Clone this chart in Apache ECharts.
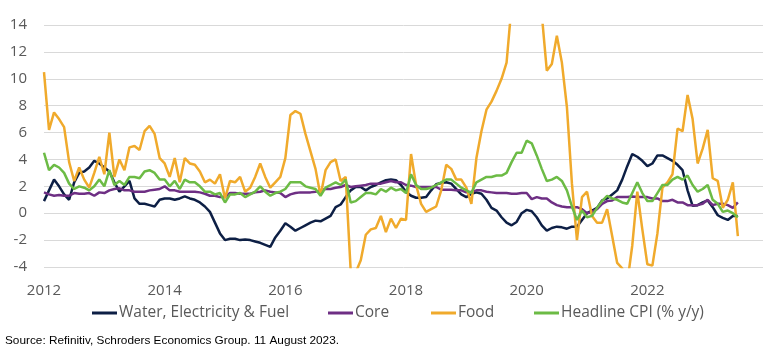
<!DOCTYPE html>
<html>
<head>
<meta charset="utf-8">
<script src="https://cdn.jsdelivr.net/npm/echarts@6/dist/echarts.min.js"></script>
<style>
html,body{margin:0;padding:0;background:#fff;}
#chart{width:770px;height:356px;}
</style>
</head>
<body>
<div id="chart"></div>
<script>
// Monthly categories Jan 2012 .. Dec 2023 (data runs to Jul 2023)
var years = [2012,2013,2014,2015,2016,2017,2018,2019,2020,2021,2022,2023];
var months = ['01','02','03','04','05','06','07','08','09','10','11','12'];
var categories = [];
years.forEach(function(y){ months.forEach(function(m){ categories.push(y + '-' + m); }); });

var seriesNames = ['Water, Electricity & Fuel', 'Core', 'Food', 'Headline CPI (% y/y)'];

var waterElecFuel = [
  0.9, 1.7, 2.5, 2.0, 1.4, 1.0, 2.3, 3.0, 3.1, 3.4, 3.9, 3.7,
  3.4, 3.1, 2.3, 1.6, 2.0, 2.4, 1.1, 0.7, 0.7, 0.6, 0.5, 1.0,
  1.1, 1.1, 1.0, 1.1, 1.25, 1.1, 1.0, 0.8, 0.5, 0.1, -0.7, -1.5,
  -2.0, -1.9, -1.9, -2.0, -1.95, -2.0, -2.1, -2.2, -2.35, -2.5, -1.8, -1.3,
  -0.75, -1.0, -1.3, -1.1, -0.9, -0.7, -0.55, -0.6, -0.4, -0.2, 0.45, 0.65,
  1.2, 1.7, 1.95, 1.95, 1.7, 1.95, 2.1, 2.3, 2.45, 2.5, 2.45, 2.1,
  1.6, 1.3, 1.15, 1.15, 1.2, 1.7, 2.15, 2.25, 2.3, 2.2, 1.8, 1.4,
  1.2, 1.45, 1.55, 1.45, 1.0, 0.4, 0.2, -0.3, -0.7, -0.9, -0.65, 0.0,
  0.25, 0.15, -0.3, -0.9, -1.3, -1.1, -1.0, -1.05, -1.15, -1.0, -1.0, -0.5,
  0.0, 0.2, 0.4, 0.95, 1.1, 1.4, 1.7, 2.5, 3.5, 4.4, 4.2, 3.9,
  3.5, 3.7, 4.3, 4.3, 4.1, 3.9, 3.6, 3.2, 1.7, 0.55, 0.6, 0.8,
  0.95, 0.45, -0.15, -0.35, -0.5, -0.2, -0.2
];

var core = [
  1.55, 1.4, 1.3, 1.35, 1.3, 1.3, 1.5, 1.45, 1.45, 1.5, 1.3, 1.55,
  1.5, 1.7, 1.8, 1.85, 1.7, 1.7, 1.6, 1.6, 1.6, 1.7, 1.75, 1.8,
  2.0, 1.7, 1.7, 1.6, 1.6, 1.6, 1.6, 1.55, 1.45, 1.3, 1.3, 1.2,
  1.2, 1.5, 1.5, 1.45, 1.45, 1.45, 1.55, 1.6, 1.7, 1.6, 1.55, 1.5,
  1.2, 1.4, 1.5, 1.55, 1.55, 1.55, 1.6, 1.7, 1.8, 1.8, 1.9, 1.95,
  2.1, 1.95, 2.0, 2.05, 2.1, 2.2, 2.2, 2.2, 2.3, 2.4, 2.3, 2.3,
  2.1, 2.05, 1.95, 1.95, 1.95, 1.95, 1.95, 1.75, 1.75, 1.75, 1.7, 1.7,
  1.55, 1.6, 1.7, 1.7, 1.6, 1.55, 1.5, 1.5, 1.5, 1.45, 1.45, 1.5,
  1.5, 1.05, 1.2, 1.1, 1.1, 0.8, 0.6, 0.5, 0.45, 0.45, 0.45, 0.3,
  0.0, 0.1, 0.3, 0.7, 0.9, 0.95, 1.2, 1.2, 1.2, 1.25, 1.2, 1.2,
  1.2, 1.1, 1.1, 0.9, 0.9, 1.0, 0.8, 0.8, 0.6, 0.6, 0.6, 0.7,
  1.0, 0.6, 0.7, 0.7, 0.6, 0.4, 0.8
];

var food = [
  10.5, 6.2, 7.5, 7.0, 6.4, 3.8, 2.4, 3.4, 2.5, 1.9, 3.0, 4.2,
  2.9, 6.0, 2.7, 4.0, 3.2, 4.9, 5.0, 4.7, 6.1, 6.5, 5.9, 4.1,
  3.7, 2.7, 4.1, 2.3, 4.1, 3.7, 3.6, 3.1, 2.3, 2.5, 2.2, 2.9,
  1.1, 2.4, 2.3, 2.7, 1.6, 1.9, 2.7, 3.7, 2.7, 1.9, 2.3, 2.7,
  4.1, 7.3, 7.6, 7.4, 5.9, 4.6, 3.3, 1.3, 3.2, 3.8, 4.0, 2.4,
  2.7, -4.3, -4.4, -3.5, -1.6, -1.2, -1.1, -0.2, -1.4, -0.4, -1.1, -0.4,
  -0.5, 4.4, 2.1, 0.7, 0.1, 0.3, 0.5, 1.7, 3.6, 3.3, 2.5, 2.5,
  1.9, 0.7, 4.1, 6.1, 7.7, 8.3, 9.1, 10.0, 11.2, 15.5, 19.1, 17.4,
  20.6, 21.9, 18.3, 14.8, 10.6, 11.1, 13.2, 11.2, 7.9, 2.2, -2.0, 1.2,
  1.6, -0.2, -0.7, -0.7, 0.3, -1.7, -3.7, -4.1, -5.2, -2.4, 1.6, -1.2,
  -3.8, -3.9, -1.5, 1.9, 2.3, 2.9, 6.3, 6.1, 8.8, 7.0, 3.7, 4.8,
  6.2, 2.6, 2.4, 0.4, 1.0, 2.3, -1.7
];

var headline = [
  4.5, 3.2, 3.6, 3.4, 3.0, 2.2, 1.8, 2.0, 1.9, 1.7, 2.0, 2.5,
  2.0, 3.2, 2.1, 2.4, 2.1, 2.7, 2.7, 2.6, 3.1, 3.2, 3.0, 2.5,
  2.5, 2.0, 2.4, 1.8, 2.5, 2.3, 2.3, 2.0, 1.6, 1.6, 1.4, 1.5,
  0.8, 1.4, 1.4, 1.5, 1.2, 1.4, 1.6, 2.0, 1.6, 1.3, 1.5, 1.6,
  1.8, 2.3, 2.3, 2.3, 2.0, 1.9, 1.8, 1.3, 1.9, 2.1, 2.3, 2.1,
  2.5, 0.8, 0.9, 1.2, 1.5, 1.5, 1.4, 1.8, 1.6, 1.9, 1.7, 1.8,
  1.5, 2.9, 2.1, 1.8, 1.8, 1.9, 2.1, 2.3, 2.5, 2.5, 2.2, 1.9,
  1.7, 1.5, 2.3, 2.5, 2.7, 2.7, 2.8, 2.8, 3.0, 3.8, 4.5, 4.5,
  5.4, 5.2, 4.3, 3.3, 2.4, 2.5, 2.7, 2.4, 1.7, 0.5, -0.5, 0.2,
  -0.3, -0.2, 0.4, 0.9, 1.3, 1.1, 1.0, 0.8, 0.7, 1.5, 2.3, 1.5,
  0.9, 0.9, 1.5, 2.1, 2.1, 2.5, 2.7, 2.5, 2.8, 2.1, 1.6, 1.8,
  2.1, 1.0, 0.7, 0.1, 0.2, 0.0, -0.3
];

var yTicks = { min: -4, max: 14, interval: 2 };
var sourceText = 'Source: Refinitiv, Schroders Economics Group. 11 August 2023.';

var colors = ['#0d1f45', '#6e2f84', '#f0aa2c', '#6cbb45'];
var seriesData = [waterElecFuel, core, food, headline];
var legendLeft = [92, 328, 431, 534];

var chart = echarts.init(document.getElementById('chart'), null, { renderer: 'canvas' });

var legends = seriesNames.map(function(n, i){
  return {
    data: [n],
    left: legendLeft[i],
    top: 305,
    orient: 'horizontal',
    icon: 'rect',
    itemWidth: 25,
    itemHeight: 3,
    itemGap: 0,
    padding: 0,
    selectedMode: false,
    textStyle: { fontFamily: 'Open Sans', fontSize: 15.5, color: '#595959', padding: [0, 0, 0, -3] }
  };
});

chart.setOption({
  animation: false,
  color: colors,
  grid: { left: 44, right: 7, top: 25, bottom: 89, containLabel: false },
  legend: legends,
  xAxis: {
    type: 'category',
    data: categories,
    boundaryGap: false,
    axisLine: { show: false },
    axisTick: { show: false },
    splitLine: { show: false },
    axisLabel: {
      interval: function(idx){ return idx % 24 === 0; },
      formatter: function(v){ return v.slice(0, 4); },
      fontFamily: 'Open Sans',
      fontSize: 15,
      color: '#595959',
      margin: 16
    }
  },
  yAxis: {
    type: 'value',
    min: yTicks.min,
    max: yTicks.max,
    interval: yTicks.interval,
    axisLine: { show: false },
    axisTick: { show: false },
    splitLine: { lineStyle: { color: '#d9d9d9', width: 1 } },
    axisLabel: {
      fontFamily: 'Open Sans',
      fontSize: 15,
      color: '#595959',
      margin: 17
    }
  },
  series: seriesNames.map(function(n, i){
    return {
      name: n,
      type: 'line',
      data: seriesData[i],
      showSymbol: false,
      symbol: 'none',
      clip: true,
      lineStyle: { width: 2.5, color: colors[i] },
      itemStyle: { color: colors[i] }
    };
  }),
  graphic: [{
    type: 'text',
    left: 5,
    top: 335,
    style: {
      text: sourceText,
      font: '11.8px "Liberation Sans", Arial, sans-serif',
      fill: '#000'
    }
  }]
});
</script>
</body>
</html>
